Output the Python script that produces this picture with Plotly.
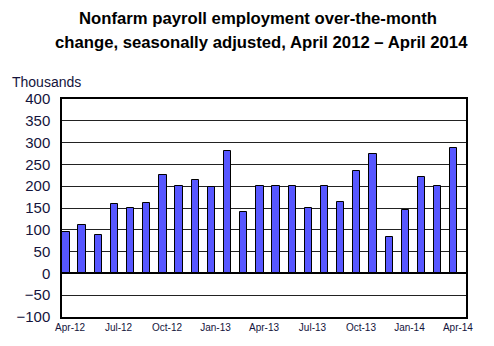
import plotly.graph_objects as go

months = ["Apr-12","May-12","Jun-12","Jul-12","Aug-12","Sep-12","Oct-12","Nov-12","Dec-12",
          "Jan-13","Feb-13","Mar-13","Apr-13","May-13","Jun-13","Jul-13","Aug-13","Sep-13",
          "Oct-13","Nov-13","Dec-13","Jan-14","Feb-14","Mar-14","Apr-14"]
values = [96, 110, 88, 160, 150, 162, 225, 200, 214, 199, 281, 141, 200, 200, 200, 149, 200, 164,
          236, 274, 84, 145, 222, 200, 288]
tick_labels = ["Apr-12","Jul-12","Oct-12","Jan-13","Apr-13","Jul-13","Oct-13","Jan-14","Apr-14"]
y_ticks = [-100, -50, 0, 50, 100, 150, 200, 250, 300, 350, 400]

xpos = list(range(len(months)))
tick_pos = [months.index(m) + 0.5 for m in tick_labels]

fig = go.Figure()
fig.add_trace(go.Bar(
    x=xpos, y=values, width=0.45, offset=0.02,
    marker=dict(color="#5757ff", line=dict(color="#000000", width=1)),
    hovertext=months,
))

fig.update_layout(
    width=494, height=346,
    margin=dict(l=62, r=28, t=99, b=29),
    plot_bgcolor="white", paper_bgcolor="white",
    showlegend=False,
    font=dict(family="Arial, Liberation Sans, sans-serif", color="#14143c"),
    bargap=0,
)
fig.update_xaxes(
    range=[0, len(months)], tickmode="array", tickvals=tick_pos, ticktext=tick_labels,
    showgrid=False, showline=True, linecolor="black", linewidth=1.5, mirror=True,
    ticks="", tickfont=dict(size=10, color="#14143c"), zeroline=False,
)
fig.update_yaxes(
    range=[-100, 400], tickmode="array", tickvals=y_ticks,
    showgrid=True, gridcolor="#222222", gridwidth=1,
    showline=True, linecolor="black", linewidth=1.5, mirror=True,
    ticks="", ticklabelstandoff=7, tickfont=dict(size=15, color="#14143c"),
    zeroline=True, zerolinecolor="black", zerolinewidth=1.5,
)

fig.add_annotation(text="<b>Nonfarm payroll employment over-the-month</b>",
                   xref="paper", yref="paper", x=0.485, y=1.0, yshift=81,
                   showarrow=False, font=dict(size=16.7, color="black"), xanchor="center", yanchor="middle")
fig.add_annotation(text="<b>change, seasonally adjusted, April 2012 – April 2014</b>",
                   xref="paper", yref="paper", x=0.495, y=1.0, yshift=57,
                   showarrow=False, font=dict(size=16.7, color="black"), xanchor="center", yanchor="middle")
fig.add_annotation(text="Thousands", xref="paper", yref="paper", x=-0.128, y=1.0, yshift=17,
                   showarrow=False, font=dict(size=14, color="#14143c"), xanchor="left", yanchor="middle")

fig.write_html("out.html")
